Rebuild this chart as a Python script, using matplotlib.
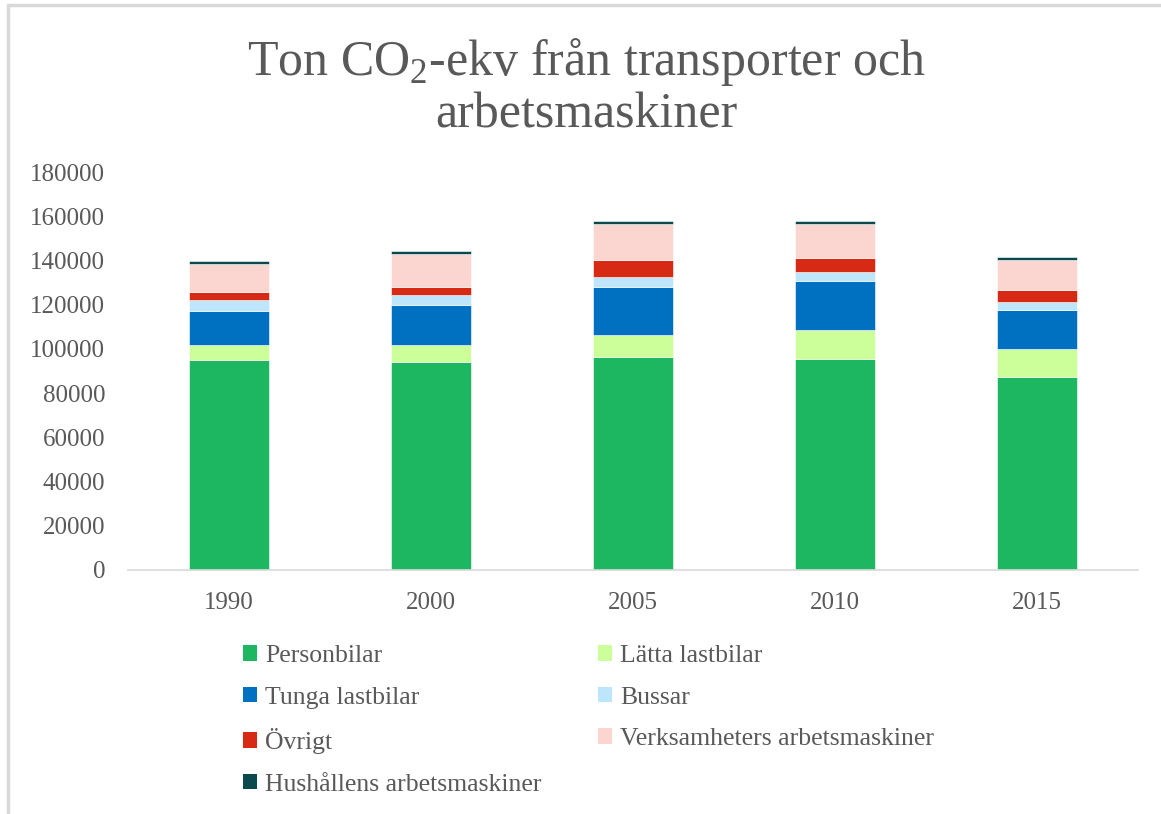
import numpy as np
import matplotlib
matplotlib.use("Agg")
import matplotlib.pyplot as plt
from matplotlib.patches import Patch, Rectangle

# ── data ──────────────────────────────────────────────────────────────────────
years = ["1990", "2000", "2005", "2010", "2015"]
personbilar   = [95000, 94000, 96200, 95500, 87300]
latta         = [6700, 7700, 10300, 13200, 12600]
tunga         = [15600, 18200, 21700, 22100, 17900]
bussar        = [4600, 4400, 4500, 4200, 3600]
ovrigt        = [4000, 3900, 7600, 6000, 5300]
verksamheters = [12400, 14800, 16300, 15600, 13300]
hushallens    = [1400, 1300, 1300, 1300, 1500]

series = [
    ("Personbilar", personbilar, "#1CB760"),
    ("Lätta lastbilar", latta, "#CCFF99"),
    ("Tunga lastbilar", tunga, "#0070C0"),
    ("Bussar", bussar, "#BDE5FB"),
    ("Övrigt", ovrigt, "#D62A14"),
    ("Verksamheters arbetsmaskiner", verksamheters, "#FBD5D0"),
    ("Hushållens arbetsmaskiner", hushallens, "#0A4A4F"),
]

TXT = "#595959"
plt.rcParams["font.family"] = ["Liberation Serif", "DejaVu Serif"]
plt.rcParams["mathtext.fontset"] = "custom"
plt.rcParams["mathtext.rm"] = "Liberation Serif"

W, H = 1161, 814
fig = plt.figure(figsize=(W / 100, H / 100), dpi=100)

# light chart border (cut off right/bottom like the screenshot)
fig.patches.append(Rectangle((8 / W, -0.1), 1.2, (H - 5) / H + 0.1, transform=fig.transFigure,
                             fill=False, edgecolor="#D9D9D9", linewidth=2.5))

ax = fig.add_axes([128 / W, (H - 570) / H, (1138 - 128) / W, (570 - 172) / H])

x = np.arange(len(years))
bottom = np.zeros(len(years))
handles = []
for name, vals, col in series:
    ax.bar(x, vals, 0.4, bottom=bottom, color=col, edgecolor="white", linewidth=0.4)
    bottom += np.array(vals)
    handles.append(Patch(facecolor=col, label=name))

ax.set_xlim(-0.5, len(years) - 0.5)
ax.set_ylim(0, 180000)
ax.set_yticks(np.arange(0, 180001, 20000))
ax.set_xticks(x)
ax.set_xticklabels(years)
ax.tick_params(length=0, labelsize=18, colors=TXT)
ax.tick_params(axis="y", pad=16.5)
ax.tick_params(axis="x", pad=16)
for s in ["top", "right", "left"]:
    ax.spines[s].set_visible(False)
ax.spines["bottom"].set_color("#D9D9D9")
ax.spines["bottom"].set_linewidth(1.2)

# ── title ────────────────────────────────────────────────────────────────────
fig.text(0.505, 1 - 75 / H, r"Ton C$\mathrm{O}_2$-ekv från transporter och",
         ha="center", va="baseline", fontsize=36, color=TXT)
fig.text(0.505, 1 - 128 / H, "arbetsmaskiner",
         ha="center", va="baseline", fontsize=36, color=TXT)

# ── legend: two columns placed separately ─────────────────────────────────────
leg_kw = dict(frameon=False, fontsize=18.5, labelcolor=TXT, handlelength=0.55,
              handleheight=0.55, handletextpad=0.3, labelspacing=0.76,
              borderaxespad=0, borderpad=0)
col1 = [handles[i] for i in (0, 2, 4, 6)]
col2 = [handles[i] for i in (1, 3, 5)]
l1 = fig.legend(handles=col1, loc="upper left",
                bbox_to_anchor=(243 / W, 1 - 645 / H), **leg_kw)
l2 = fig.legend(handles=col2, loc="upper left",
                bbox_to_anchor=(598 / W, 1 - 645 / H), **leg_kw)

fig.savefig("out.png", dpi=100)
